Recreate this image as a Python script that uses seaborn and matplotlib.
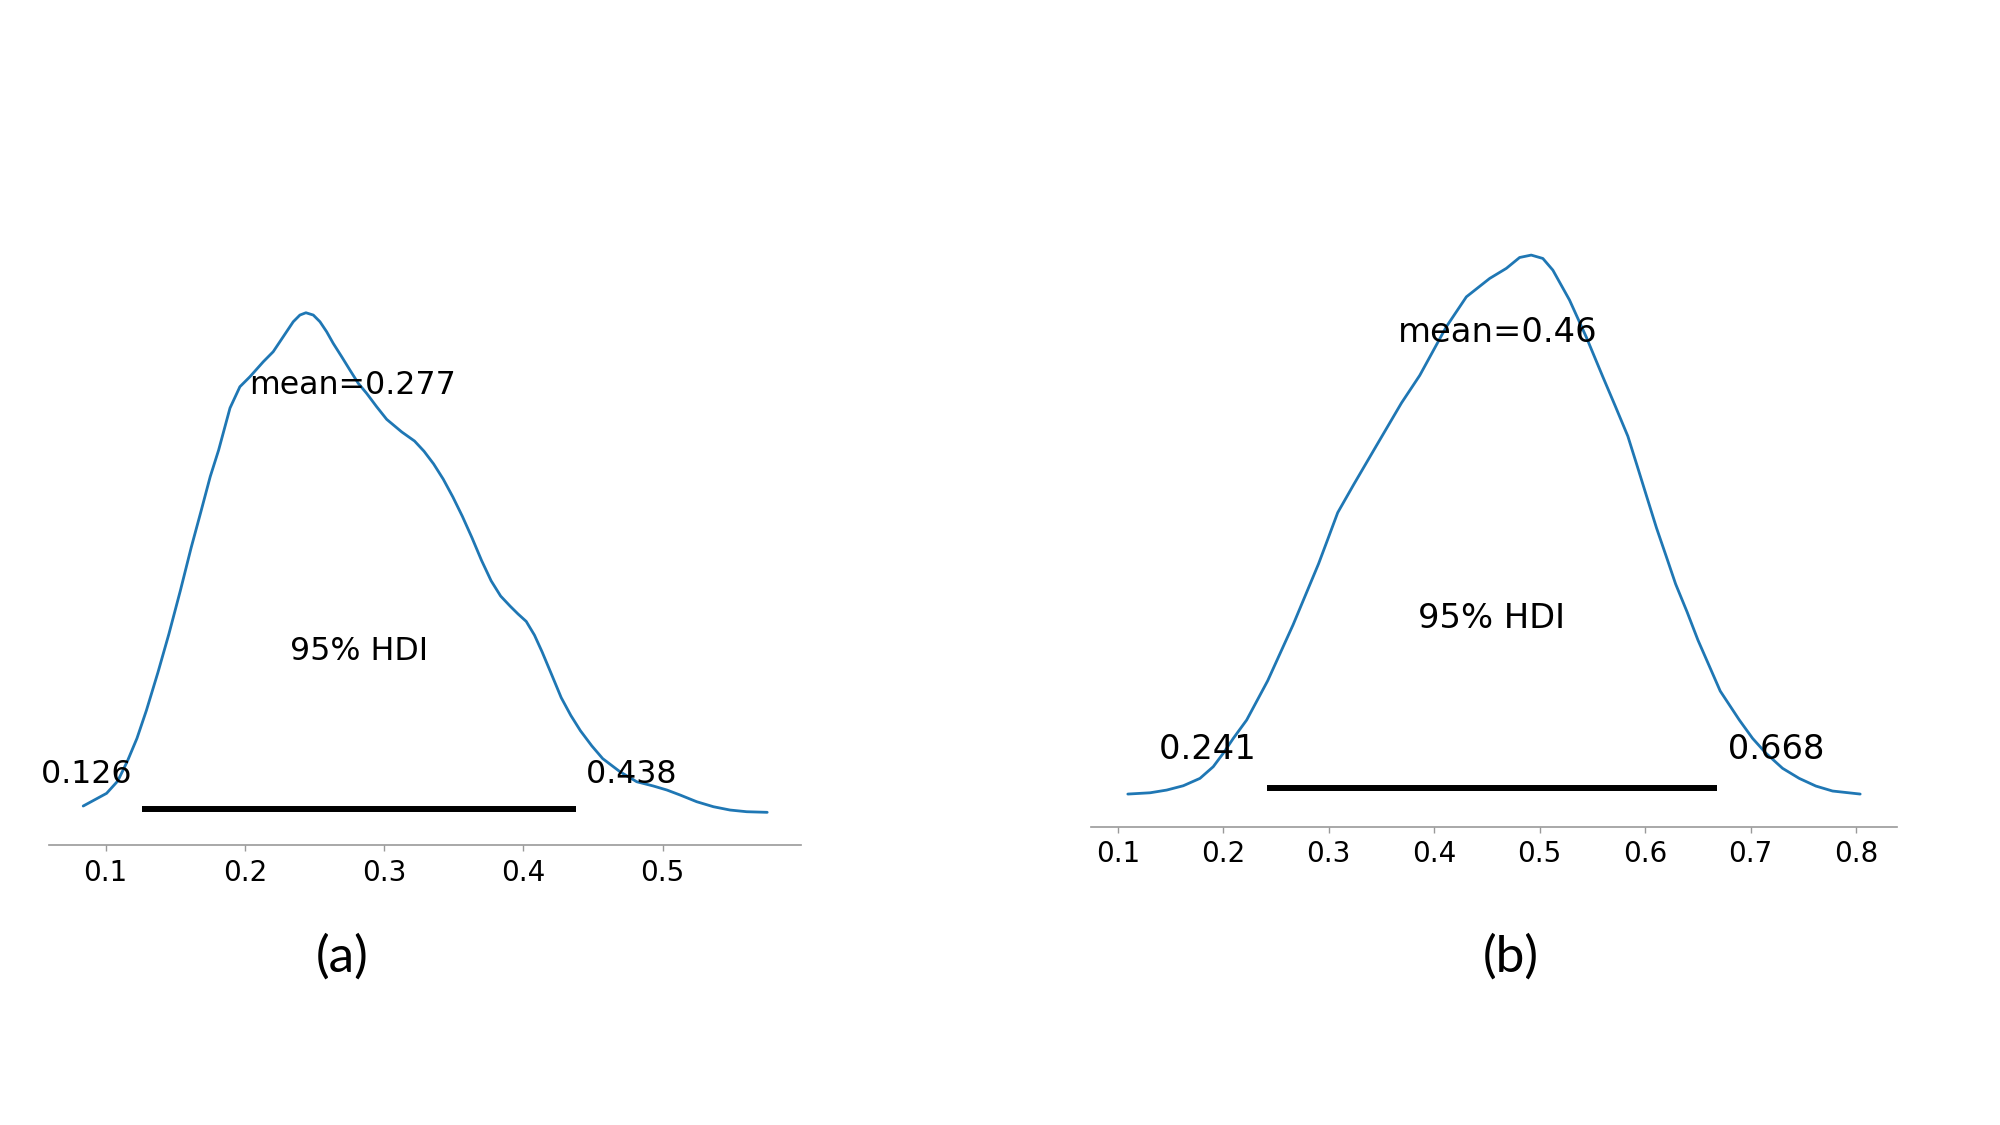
import numpy as np
import pandas as pd
import matplotlib
matplotlib.use("Agg")
import matplotlib.pyplot as plt
import seaborn as sns

# ---------------- data ----------------
# Panel (a): posterior density
a_x = [0.0839, 0.1007, 0.1087, 0.1156, 0.1225, 0.1293, 0.1376, 0.1454, 0.1536,
       0.1614, 0.1683, 0.1751, 0.1811, 0.1893, 0.1964, 0.2036, 0.2132, 0.2203,
       0.2275, 0.2347, 0.2395, 0.2438, 0.2491, 0.2539, 0.2587, 0.2634, 0.2695,
       0.2754, 0.2814, 0.2874, 0.2946, 0.3018, 0.3126, 0.3218, 0.3286, 0.3355,
       0.3424, 0.3493, 0.3561, 0.3630, 0.3699, 0.3768, 0.3836, 0.3905, 0.3960,
       0.4020, 0.4079, 0.4134, 0.4203, 0.4271, 0.4340, 0.4409, 0.4491, 0.4569,
       0.4693, 0.4813, 0.4933, 0.5030, 0.5125, 0.5244, 0.5364, 0.5483, 0.5603,
       0.5750]
a_density = [0.140, 0.267, 0.390, 0.588, 0.817, 1.097, 1.478, 1.859, 2.291,
             2.723, 3.078, 3.434, 3.698, 4.120, 4.333, 4.433, 4.583, 4.683,
             4.833, 4.983, 5.050, 5.073, 5.050, 4.983, 4.883, 4.767, 4.633,
             4.500, 4.367, 4.267, 4.133, 4.007, 3.881, 3.790, 3.688, 3.561,
             3.409, 3.231, 3.038, 2.824, 2.596, 2.392, 2.240, 2.138, 2.062,
             1.986, 1.849, 1.681, 1.452, 1.224, 1.046, 0.893, 0.741, 0.614,
             0.483, 0.383, 0.340, 0.300, 0.250, 0.183, 0.133, 0.100, 0.083,
             0.077]
a_mean = 0.277
a_hdi = [0.126, 0.438]
a_ticks = [0.1, 0.2, 0.3, 0.4, 0.5]

# Panel (b): posterior density
b_x = [0.1095, 0.1306, 0.1464, 0.1621, 0.1779, 0.1905, 0.2000, 0.2095, 0.2222,
       0.2421, 0.2662, 0.2783, 0.2904, 0.2995, 0.3085, 0.3237, 0.3448, 0.3690,
       0.3863, 0.4115, 0.4305, 0.4526, 0.4684, 0.4810, 0.4920, 0.5030, 0.5125,
       0.5283, 0.5441, 0.5599, 0.5715, 0.5836, 0.5927, 0.6017, 0.6108, 0.6199,
       0.6289, 0.6398, 0.6501, 0.6712, 0.6893, 0.7019, 0.7146, 0.7303, 0.7461,
       0.7619, 0.7777, 0.8039]
b_density = [0.033, 0.041, 0.058, 0.085, 0.131, 0.204, 0.288, 0.381, 0.496,
             0.741, 1.091, 1.282, 1.473, 1.633, 1.792, 1.968, 2.206, 2.478,
             2.650, 2.954, 3.141, 3.256, 3.319, 3.387, 3.402, 3.381, 3.308,
             3.121, 2.891, 2.641, 2.461, 2.270, 2.079, 1.888, 1.696, 1.521,
             1.346, 1.171, 0.995, 0.677, 0.496, 0.381, 0.288, 0.194, 0.131,
             0.083, 0.052, 0.033]
b_mean = 0.46
b_hdi = [0.241, 0.668]
b_ticks = [0.1, 0.2, 0.3, 0.4, 0.5, 0.6, 0.7, 0.8]

hdi_label = "95% HDI"
panel_labels = ["(a)", "(b)"]

# ---------------- style ----------------
sns.set_style("white")
plt.rcParams["font.family"] = ["DejaVu Sans"]

fig = plt.figure(figsize=(20, 11.25), dpi=100)
fig.patch.set_facecolor("white")

panels = [
    dict(x=a_x, d=a_density, mean=a_mean, hdi=a_hdi, ticks=a_ticks,
         rect=[0.0245, 0.2486, 0.3762, 0.4958], ylim=(-0.253, 5.325),
         fs=22.8, label_xy=(342 / 2000, 1 - 957 / 1125)),
    dict(x=b_x, d=b_density, mean=b_mean, hdi=b_hdi, ticks=b_ticks,
         rect=[0.5456, 0.2653, 0.4028, 0.5327], ylim=(-0.170, 3.576),
         fs=24.3, label_xy=(1511 / 2000, 1 - 957 / 1125)),
]

spine_gray = "#999999"

for p, lab in zip(panels, panel_labels):
    ax = fig.add_axes(p["rect"])
    ax.set_facecolor("white")
    df = pd.DataFrame({"x": p["x"], "density": p["d"]})
    sns.lineplot(data=df, x="x", y="density", ax=ax, color="#1f77b4",
                 linewidth=2.0, sort=False, estimator=None)
    ax.set_ylim(*p["ylim"])
    plot_height = ax.get_ylim()[1]

    # HDI bar and annotations
    ax.plot(p["hdi"], [plot_height * 0.02] * 2, color="k", lw=4.3,
            solid_capstyle="butt")
    ax.text(p["hdi"][0], plot_height * 0.07, f"{p['hdi'][0]:g} ",
            ha="right", fontsize=p["fs"], color="black")
    ax.text(p["hdi"][1], plot_height * 0.07, f" {p['hdi'][1]:g}",
            ha="left", fontsize=p["fs"], color="black")
    ax.text((p["hdi"][0] + p["hdi"][1]) / 2, plot_height * 0.3, hdi_label,
            ha="center", fontsize=p["fs"], color="black")
    ax.text(p["mean"], plot_height * 0.8, f"mean={p['mean']:g}",
            ha="center", fontsize=p["fs"], color="black")

    ax.set_xticks(p["ticks"])
    ax.set_xticklabels([f"{t:g}" for t in p["ticks"]])
    ax.set_yticks([])
    ax.set_xlabel("")
    ax.set_ylabel("")
    for s in ["left", "top", "right"]:
        ax.spines[s].set_visible(False)
    ax.spines["bottom"].set_color(spine_gray)
    ax.spines["bottom"].set_linewidth(1.2)
    ax.tick_params(axis="x", which="major", direction="out", length=4,
                   width=1.0, color=spine_gray, labelsize=20,
                   labelcolor="black", pad=6, bottom=True)
    ax.grid(False)

    fig.text(p["label_xy"][0], p["label_xy"][1], lab, ha="center",
             va="center", fontsize=37, family=["Lato", "DejaVu Sans"],
             color="black")

fig.savefig("out.png", dpi=100, facecolor="white")
